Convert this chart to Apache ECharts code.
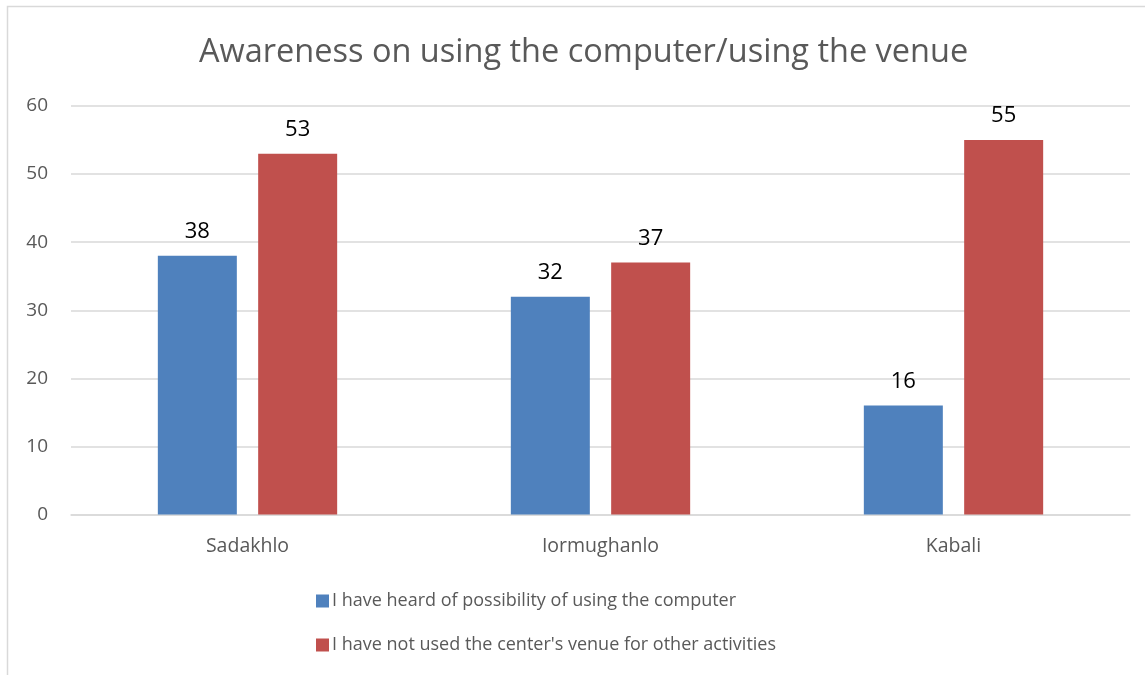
<!DOCTYPE html>
<html><head><meta charset="utf-8">
<script src="https://cdn.jsdelivr.net/npm/echarts@6/dist/echarts.min.js"></script>
<style>html,body{margin:0;padding:0;background:#fff}#c{width:1145px;height:675px}</style>
</head><body><div id="c"></div>
<script>
const categories = ['Sadakhlo', 'Iormughanlo', 'Kabali'];
const heardValues = [38, 32, 16];
const notUsedValues = [53, 37, 55];
const seriesNames = ['I have heard of possibility of using the computer', "I have not used the center's venue for other activities"];
const titleText = 'Awareness on using the computer/using the venue';

const chart = echarts.init(document.getElementById('c'));
const font = 'Open Sans';
chart.setOption({
  animation: false,
  textStyle: { fontFamily: font },
  title: { text: titleText, left: 194, top: 31, textStyle: { fontFamily: font, fontSize: 32.5, fontWeight: 'normal', color: '#595959' } },
  graphic: [{ type: 'rect', shape: { x: 7.5, y: 6.5, width: 1200, height: 700 }, style: { fill: 'none', stroke: '#d9d9d9', lineWidth: 1.5 }, silent: true }],
  grid: { left: 71, right: 15, top: 106, bottom: 160.5, containLabel: false },
  legend: { orient: 'vertical', left: 311, top: 587, itemWidth: 13, itemHeight: 13, itemGap: 26, icon: 'rect',
    textStyle: { fontFamily: font, fontSize: 18, color: '#595959', padding: [0, 0, 0, -2] } },
  xAxis: { type: 'category', data: categories,
    axisLine: { lineStyle: { color: '#d9d9d9', width: 1.5 } }, axisTick: { show: false },
    axisLabel: { fontFamily: font, fontSize: 19.5, color: '#595959', margin: 22 } },
  yAxis: { type: 'value', min: 0, max: 60, interval: 10,
    axisLine: { show: false }, axisTick: { show: false },
    splitLine: { lineStyle: { color: '#d9d9d9', width: 1.5 } },
    axisLabel: { fontFamily: font, fontSize: 19, color: '#595959', margin: 23 } },
  series: [
    { name: seriesNames[0], type: 'bar', data: heardValues, barWidth: 79, barGap: '27%',
      itemStyle: { color: '#4f81bd' },
      label: { show: true, position: 'top', distance: 13, fontFamily: font, fontSize: 22, color: '#000' } },
    { name: seriesNames[1], type: 'bar', data: notUsedValues, barWidth: 79,
      itemStyle: { color: '#c0504d' },
      label: { show: true, position: 'top', distance: 13, fontFamily: font, fontSize: 22, color: '#000' } }
  ]
});
</script></body></html>
